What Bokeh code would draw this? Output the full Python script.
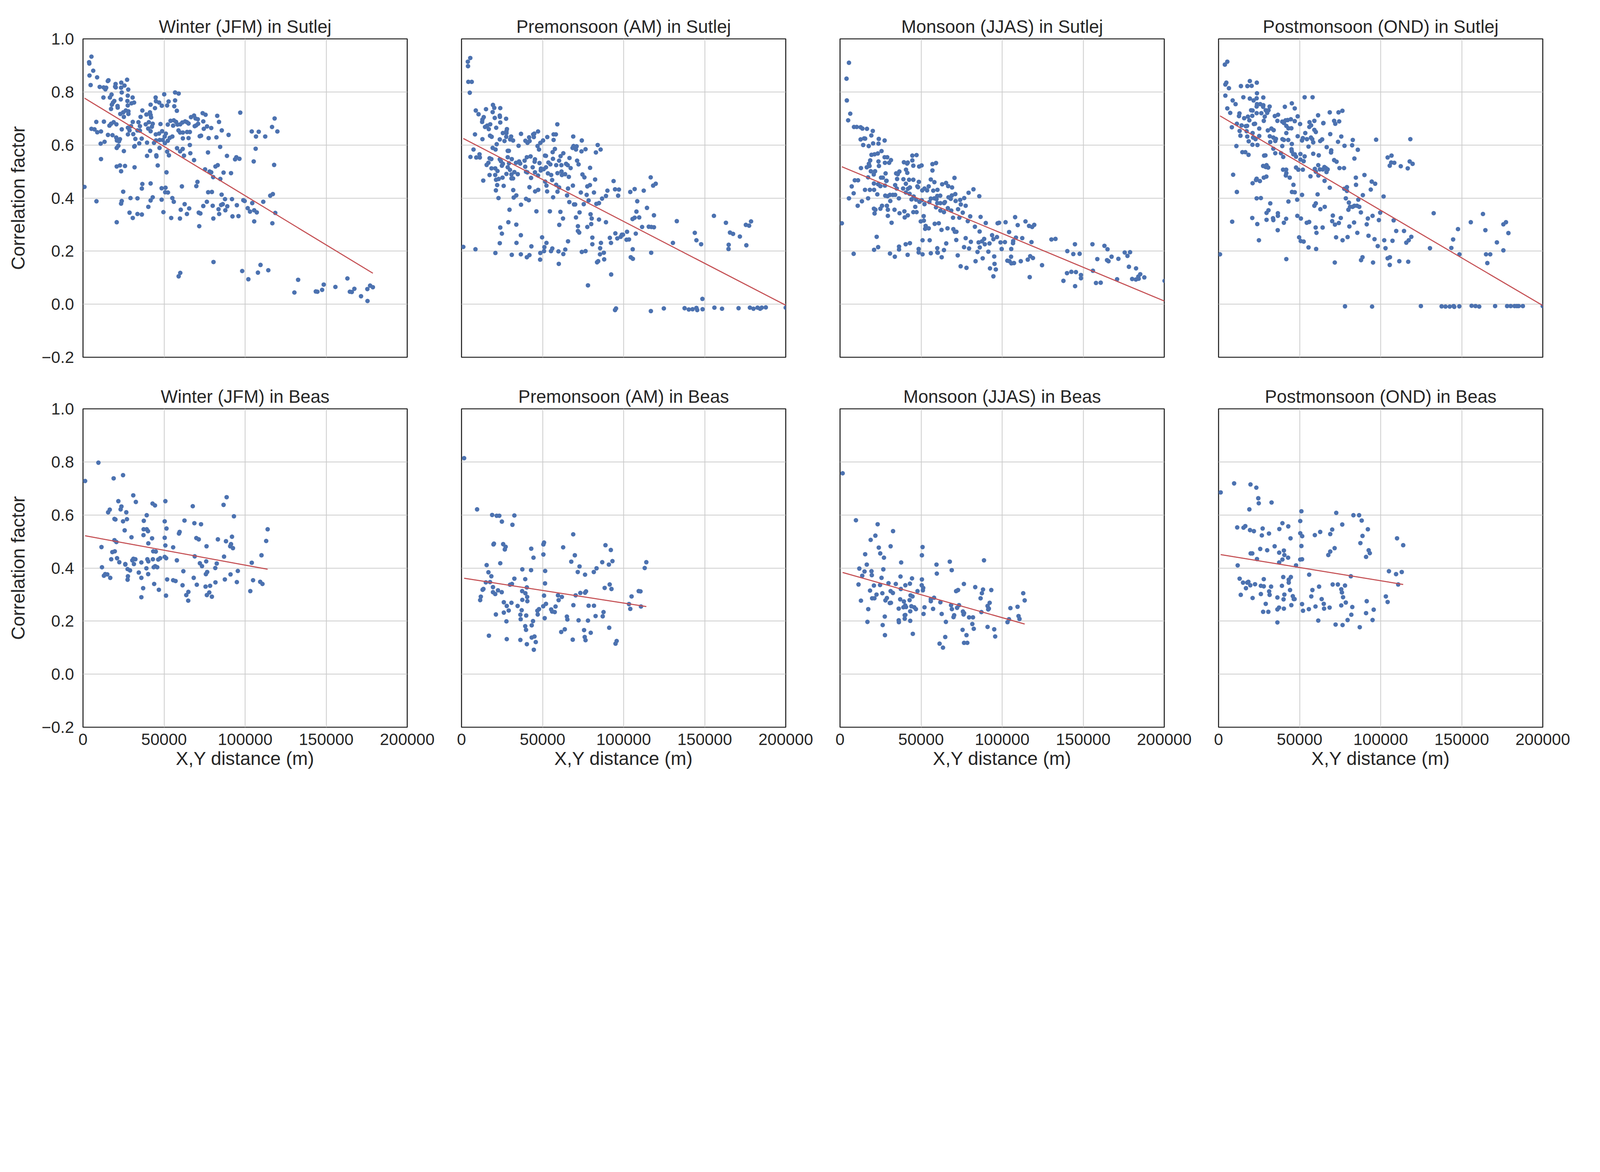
"""Spatial correlation of snow cover vs distance, Sutlej and Beas, by season"""
from bokeh.embed import file_html
from bokeh.layouts import column, row
from bokeh.models import FixedTicker
from bokeh.plotting import figure
from bokeh.resources import INLINE

x_ticks = [0, 50000, 100000, 150000, 200000]
x_tick_labels = ["0", "50000", "100000", "150000", "200000"]
y_ticks = [-0.2, 0.0, 0.2, 0.4, 0.6, 0.8, 1.0]
y_tick_labels = ["\u22120.2", "0.0", "0.2", "0.4", "0.6", "0.8", "1.0"]

titles_top = ["Winter (JFM) in Sutlej", "Premonsoon (AM) in Sutlej",
              "Monsoon (JJAS) in Sutlej", "Postmonsoon (OND) in Sutlej"]
titles_bottom = ["Winter (JFM) in Beas", "Premonsoon (AM) in Beas",
                 "Monsoon (JJAS) in Beas", "Postmonsoon (OND) in Beas"]

# fitted line: intercept, slope (per m)
fit_intercept = [0.78, 0.628, 0.521, 0.713, 0.523, 0.363, 0.386, 0.452]
fit_slope = [-3.71e-6, -3.16e-6, -2.545e-6, -3.59e-6, -1.12e-6, -9.5e-7, -1.73e-6, -1.0e-6]

# (distance m, correlation) pairs
sutlej_winter = [
    (5200, 0.933), (3750, 0.912), (3900, 0.907), (6300, 0.88), (4000, 0.862), (8700, 0.855), (4700, 0.826),
    (10300, 0.819), (12700, 0.817), (13800, 0.81), (14300, 0.816), (15300, 0.841), (15700, 0.844),
    (19800, 0.82), (20100, 0.83), (20200, 0.817), (23600, 0.835), (23500, 0.816), (25600, 0.824),
    (27200, 0.846), (27900, 0.809), (23900, 0.798), (12600, 0.779), (16600, 0.779), (17600, 0.79),
    (19300, 0.766), (18500, 0.76), (17800, 0.752), (17300, 0.736), (21300, 0.747), (21400, 0.741),
    (23300, 0.772), (27600, 0.786), (27400, 0.766), (30600, 0.779), (31500, 0.76), (29900, 0.757),
    (27600, 0.749), (26400, 0.73), (28000, 0.727), (24800, 0.723), (23000, 0.717), (25200, 0.706),
    (28000, 0.717), (36600, 0.73), (35500, 0.706), (39100, 0.715), (41300, 0.723), (41700, 0.713),
    (42000, 0.704), (41700, 0.752), (44800, 0.779), (45000, 0.765), (47000, 0.76), (48600, 0.748),
    (44400, 0.739), (50100, 0.791), (56800, 0.798), (59000, 0.794), (51900, 0.749), (52800, 0.764),
    (56300, 0.746), (56800, 0.768), (57900, 0.729), (97000, 0.722), (73800, 0.72), (75600, 0.714),
    (66600, 0.705), (68500, 0.711), (69400, 0.7), (70800, 0.697), (74200, 0.689), (82800, 0.71),
    (83900, 0.687), (118200, 0.7), (116600, 0.668), (119900, 0.651), (104100, 0.651), (108400, 0.65),
    (106700, 0.632), (112400, 0.632), (85600, 0.655), (89800, 0.638), (79100, 0.664), (76500, 0.67),
    (74500, 0.661), (71000, 0.68), (68900, 0.671), (69800, 0.674), (72000, 0.633), (72800, 0.635),
    (77500, 0.626), (82300, 0.629), (84600, 0.593), (77100, 0.572), (106500, 0.586), (105300, 0.538),
    (117900, 0.525), (88800, 0.559), (93800, 0.546), (94600, 0.554), (96500, 0.548), (81700, 0.519),
    (83100, 0.524), (75300, 0.508), (78100, 0.5), (79100, 0.497), (80300, 0.479), (86700, 0.496),
    (91300, 0.494), (84700, 0.472), (70600, 0.461), (69900, 0.445), (8200, 0.687), (5200, 0.661),
    (7100, 0.659), (8800, 0.648), (11100, 0.651), (12900, 0.688), (16300, 0.673), (17300, 0.68),
    (18900, 0.686), (20600, 0.678), (23900, 0.659), (15400, 0.638), (18200, 0.637), (20500, 0.628),
    (22800, 0.622), (20900, 0.617), (22200, 0.614), (10900, 0.605), (13300, 0.612), (20800, 0.589),
    (21800, 0.597), (25200, 0.577), (11100, 0.547), (27700, 0.665), (29600, 0.671), (28700, 0.655),
    (30700, 0.687), (27700, 0.64), (31000, 0.641), (34200, 0.686), (35100, 0.671), (33600, 0.655),
    (35100, 0.654), (32300, 0.623), (36200, 0.624), (34700, 0.606), (31600, 0.594), (31900, 0.596),
    (38700, 0.678), (40600, 0.686), (43000, 0.68), (42500, 0.669), (40200, 0.662), (41700, 0.652),
    (47800, 0.679), (44900, 0.64), (46900, 0.643), (48800, 0.652), (39500, 0.609), (43800, 0.608),
    (45000, 0.617), (47300, 0.619), (49200, 0.619), (50400, 0.632), (51100, 0.643), (50500, 0.607),
    (52300, 0.616), (47200, 0.589), (41400, 0.578), (39500, 0.559), (45200, 0.561), (45300, 0.557),
    (51900, 0.575), (53000, 0.561), (46100, 0.523), (51500, 0.497), (53500, 0.627), (55100, 0.632),
    (52300, 0.677), (54000, 0.691), (56000, 0.693), (57400, 0.687), (55600, 0.673), (58300, 0.677),
    (60000, 0.678), (61300, 0.685), (63000, 0.689), (65100, 0.681), (64100, 0.686), (64200, 0.649),
    (65900, 0.649), (58900, 0.655), (59900, 0.647), (61600, 0.647), (61500, 0.585), (59900, 0.576),
    (58000, 0.588), (61600, 0.625), (65100, 0.626), (65900, 0.6), (66200, 0.569), (62300, 0.56),
    (68500, 0.543), (31800, 0.516), (25900, 0.521), (22800, 0.523), (20800, 0.519), (23500, 0.501),
    (900, 0.442), (8300, 0.388), (20800, 0.309), (23500, 0.379), (23900, 0.389), (24800, 0.424),
    (28700, 0.345), (29300, 0.4), (30700, 0.325), (33600, 0.399), (33600, 0.34), (36300, 0.338),
    (36300, 0.436), (36600, 0.453), (41700, 0.455), (43000, 0.403), (41700, 0.391), (40300, 0.367),
    (48500, 0.437), (48500, 0.394), (49600, 0.347), (50900, 0.439), (50700, 0.422), (52400, 0.421),
    (55100, 0.4), (56000, 0.386), (54400, 0.325), (59800, 0.323), (61000, 0.444), (62700, 0.377),
    (60300, 0.356), (64100, 0.34), (65500, 0.361), (71400, 0.345), (72400, 0.342), (71700, 0.294),
    (74200, 0.37), (76400, 0.386), (77200, 0.422), (79500, 0.423), (80000, 0.371), (83600, 0.358),
    (84000, 0.34), (80400, 0.323), (85500, 0.413), (87600, 0.396), (85200, 0.374), (86200, 0.377),
    (89000, 0.369), (87800, 0.354), (91900, 0.396), (94900, 0.373), (92200, 0.331), (95900, 0.332),
    (98900, 0.392), (99700, 0.389), (101600, 0.362), (103000, 0.349), (105600, 0.354), (107200, 0.346),
    (104400, 0.381), (105600, 0.312), (111200, 0.386), (115500, 0.409), (117100, 0.415), (118600, 0.344),
    (116800, 0.305), (59000, 0.105), (60000, 0.118), (80500, 0.159), (98200, 0.125), (102000, 0.094),
    (107900, 0.119), (109500, 0.148), (114300, 0.128), (132700, 0.092), (130400, 0.044), (143600, 0.048),
    (144600, 0.047), (147500, 0.054), (148500, 0.074), (155700, 0.065), (163100, 0.097), (164600, 0.047),
    (165800, 0.046), (167400, 0.058), (171500, 0.03), (175400, 0.057), (175500, 0.012), (177100, 0.07),
    (178800, 0.064),
]

sutlej_premonsoon = [
    (5400, 0.928), (3900, 0.914), (4000, 0.897), (4200, 0.838), (6300, 0.838), (5100, 0.797),
    (19400, 0.751), (20200, 0.74), (23900, 0.739), (15100, 0.735), (8800, 0.73), (10500, 0.716),
    (19200, 0.724), (13700, 0.705), (12900, 0.696), (12700, 0.687), (20500, 0.702), (23600, 0.711),
    (23700, 0.706), (23900, 0.685), (27500, 0.699), (17700, 0.678), (15800, 0.673), (14500, 0.668),
    (16800, 0.66), (21400, 0.665), (28000, 0.66), (27700, 0.652), (25500, 0.645), (27700, 0.645),
    (27600, 0.631), (59100, 0.678), (8300, 0.64), (12900, 0.622), (17600, 0.635), (18600, 0.631),
    (23600, 0.621), (21700, 0.603), (26500, 0.615), (30600, 0.632), (30000, 0.621), (31800, 0.617),
    (36700, 0.642), (35200, 0.597), (39400, 0.616), (40700, 0.608), (41700, 0.629), (42000, 0.615),
    (44200, 0.64), (44900, 0.643), (44600, 0.63), (47200, 0.651), (50300, 0.617), (48600, 0.608),
    (46900, 0.596), (47800, 0.583), (52900, 0.63), (56800, 0.64), (58200, 0.64), (56800, 0.619),
    (68900, 0.632), (74200, 0.617), (68500, 0.589), (69100, 0.596), (71000, 0.595), (70600, 0.583),
    (74000, 0.576), (76500, 0.584), (84000, 0.6), (85800, 0.583), (82900, 0.572), (7400, 0.583),
    (5500, 0.555), (9100, 0.553), (11100, 0.565), (11300, 0.553), (19200, 0.589), (21000, 0.583),
    (17300, 0.55), (18400, 0.547), (15500, 0.525), (16600, 0.533), (28500, 0.578), (29200, 0.578),
    (28500, 0.554), (31000, 0.547), (23600, 0.546), (24300, 0.539), (24900, 0.522), (25500, 0.529),
    (29300, 0.531), (28500, 0.516), (29900, 0.506), (27700, 0.491), (32600, 0.498), (30800, 0.489),
    (34700, 0.49), (30800, 0.474), (31800, 0.474), (18500, 0.512), (20800, 0.512), (22200, 0.502),
    (17300, 0.487), (20800, 0.487), (21300, 0.469), (22900, 0.472), (25300, 0.477), (13400, 0.466),
    (22000, 0.449), (26000, 0.446), (21200, 0.429), (22800, 0.4), (33600, 0.533), (35500, 0.538),
    (36200, 0.53), (38900, 0.541), (40300, 0.554), (42600, 0.557), (43900, 0.516), (45300, 0.546),
    (45100, 0.537), (39300, 0.518), (39800, 0.499), (40600, 0.497), (42900, 0.476), (45300, 0.497),
    (47200, 0.485), (48100, 0.532), (49000, 0.511), (50700, 0.509), (52100, 0.516), (48900, 0.504),
    (51500, 0.56), (52100, 0.559), (53600, 0.534), (54800, 0.527), (56400, 0.548), (56200, 0.573),
    (57600, 0.585), (53300, 0.493), (55300, 0.487), (55900, 0.468), (51600, 0.462), (52400, 0.447),
    (52800, 0.425), (56500, 0.403), (41900, 0.441), (45400, 0.425), (47300, 0.431), (31900, 0.43),
    (32200, 0.402), (33800, 0.41), (39800, 0.397), (41500, 0.392), (36700, 0.375), (29600, 0.356),
    (46200, 0.35), (58400, 0.524), (60200, 0.541), (61600, 0.524), (61100, 0.558), (62800, 0.569),
    (64500, 0.529), (65500, 0.524), (67300, 0.513), (66600, 0.551), (59200, 0.494), (61700, 0.5),
    (61900, 0.487), (63900, 0.49), (66200, 0.48), (58400, 0.45), (60200, 0.44), (59200, 0.424),
    (65700, 0.436), (65100, 0.41), (68700, 0.447), (66500, 0.385), (69400, 0.376), (70100, 0.376),
    (71300, 0.541), (72200, 0.527), (74600, 0.489), (75800, 0.478), (79300, 0.514), (82400, 0.47),
    (77600, 0.444), (79200, 0.449), (73600, 0.421), (77200, 0.412), (78400, 0.391), (75400, 0.377),
    (81700, 0.421), (83200, 0.378), (84800, 0.381), (86700, 0.398), (89100, 0.408), (90000, 0.428),
    (93800, 0.464), (94700, 0.433), (97100, 0.432), (96600, 0.409), (104100, 0.423), (106800, 0.434),
    (112400, 0.428), (108400, 0.388), (116700, 0.478), (118200, 0.447), (119800, 0.454), (61000, 0.348),
    (70600, 0.327), (72800, 0.346), (79600, 0.339), (80300, 0.323), (84800, 0.319), (89100, 0.309),
    (62600, 0.323), (60300, 0.299), (54500, 0.35), (71800, 0.294), (71800, 0.276), (72600, 0.27),
    (77600, 0.291), (80000, 0.302), (114400, 0.363), (118700, 0.335), (107900, 0.349), (106800, 0.326),
    (105500, 0.321), (109600, 0.327), (111400, 0.291), (115500, 0.292), (117100, 0.291), (118700, 0.29),
    (23900, 0.289), (24900, 0.266), (28900, 0.309), (33800, 0.3), (36600, 0.26), (23600, 0.23),
    (33900, 0.231), (49700, 0.252), (52400, 0.231), (51100, 0.215), (65700, 0.237), (86000, 0.231),
    (80700, 0.251), (80700, 0.226), (91500, 0.25), (92200, 0.231), (94900, 0.267), (96100, 0.248),
    (98200, 0.254), (98900, 0.262), (99600, 0.262), (102100, 0.273), (101800, 0.243), (103300, 0.244),
    (107500, 0.266), (1100, 0.216), (8600, 0.207), (20900, 0.193), (31000, 0.186), (36600, 0.188),
    (40300, 0.177), (41900, 0.185), (43100, 0.218), (48500, 0.168), (48600, 0.193), (50900, 0.2),
    (55200, 0.2), (56000, 0.21), (59800, 0.199), (60000, 0.152), (62800, 0.189), (64000, 0.206),
    (74200, 0.197), (76500, 0.2), (85500, 0.211), (85400, 0.188), (87800, 0.194), (88000, 0.169),
    (83600, 0.158), (84300, 0.162), (92300, 0.112), (78000, 0.071), (105600, 0.207), (104400, 0.177),
    (105700, 0.171), (117000, 0.194), (130400, 0.231), (132800, 0.313), (143900, 0.269), (144900, 0.241),
    (147800, 0.226), (155700, 0.333), (163100, 0.307), (165600, 0.27), (167500, 0.265), (164800, 0.224),
    (164700, 0.208), (171700, 0.255), (175700, 0.222), (175400, 0.299), (177400, 0.296), (178600, 0.312),
    (148600, 0.02), (94700, -0.022), (95300, -0.016), (116800, -0.026), (124800, -0.016), (137600, -0.015),
    (140200, -0.02), (142500, -0.019), (144900, -0.014), (145400, -0.022), (148700, -0.019), (156000, -0.013),
    (160700, -0.017), (170900, -0.015), (177900, -0.013), (180100, -0.017), (182600, -0.013), (184200, -0.017),
    (185200, -0.013), (187700, -0.012), (200000, -0.013),
]

sutlej_monsoon = [
    (5500, 0.91), (4000, 0.85), (4200, 0.768), (6300, 0.718), (5000, 0.693), (8600, 0.668), (10300, 0.668),
    (12700, 0.667), (13800, 0.662), (16600, 0.661), (20200, 0.653), (19300, 0.636), (12700, 0.621),
    (14900, 0.625), (15500, 0.624), (23900, 0.623), (27500, 0.617), (14300, 0.6), (17700, 0.596),
    (20400, 0.606), (23700, 0.605), (25600, 0.577), (19400, 0.563), (21300, 0.565), (23300, 0.568),
    (27500, 0.554), (29100, 0.554), (27700, 0.533), (30300, 0.533), (31400, 0.543), (18600, 0.542),
    (17800, 0.529), (18200, 0.521), (23700, 0.538), (24000, 0.521), (16500, 0.516), (12900, 0.513),
    (44600, 0.56), (47200, 0.562), (44600, 0.542), (45200, 0.522), (39400, 0.535), (41800, 0.534),
    (41400, 0.53), (48800, 0.519), (50300, 0.523), (57000, 0.528), (59200, 0.532), (57000, 0.504),
    (19000, 0.501), (21600, 0.501), (20800, 0.489), (17300, 0.478), (9100, 0.467), (11100, 0.467),
    (28100, 0.493), (25300, 0.477), (26400, 0.477), (28700, 0.465), (34600, 0.493), (35600, 0.49),
    (36600, 0.5), (35200, 0.472), (40700, 0.507), (41500, 0.495), (39100, 0.471), (42600, 0.469),
    (45200, 0.469), (40600, 0.454), (20900, 0.455), (24900, 0.445), (23500, 0.452), (27700, 0.447),
    (28500, 0.465), (34000, 0.449), (35000, 0.436), (7200, 0.444), (8400, 0.418), (5500, 0.399),
    (15400, 0.431), (18400, 0.431), (21000, 0.431), (23000, 0.414), (17300, 0.399), (38900, 0.436),
    (40600, 0.421), (41900, 0.435), (43100, 0.44), (42900, 0.416), (47700, 0.444), (48600, 0.461),
    (48100, 0.441), (50700, 0.429), (52100, 0.436), (53700, 0.429), (54700, 0.444), (56000, 0.47),
    (58200, 0.46), (57500, 0.428), (60100, 0.431), (63000, 0.452), (65400, 0.457), (66700, 0.445),
    (69100, 0.44), (70600, 0.476), (82300, 0.433), (85900, 0.407), (79300, 0.42), (27900, 0.409),
    (29300, 0.407), (30800, 0.412), (32600, 0.412), (34000, 0.412), (31000, 0.389), (36300, 0.399),
    (44100, 0.395), (45400, 0.406), (46900, 0.394), (49000, 0.386), (50400, 0.392), (52100, 0.377),
    (55100, 0.385), (56000, 0.398), (58200, 0.399), (59500, 0.396), (60000, 0.408), (61800, 0.409),
    (59200, 0.365), (60000, 0.381), (61900, 0.381), (64200, 0.381), (64700, 0.385), (66900, 0.403),
    (68300, 0.397), (69000, 0.41), (71100, 0.415), (71300, 0.389), (74100, 0.393), (74500, 0.376),
    (76600, 0.4), (77500, 0.371), (72800, 0.358), (68600, 0.353), (75700, 0.345), (73600, 0.326),
    (69700, 0.326), (61900, 0.353), (64100, 0.347), (66500, 0.362), (10900, 0.371), (13500, 0.388),
    (20900, 0.36), (21800, 0.356), (21300, 0.342), (24900, 0.36), (25900, 0.371), (29500, 0.356),
    (28900, 0.371), (33600, 0.356), (31800, 0.307), (29500, 0.333), (36700, 0.343), (39700, 0.35),
    (39900, 0.327), (41800, 0.335), (45200, 0.347), (47200, 0.347), (46400, 0.367), (51600, 0.332),
    (51700, 0.315), (49800, 0.312), (52800, 0.295), (52500, 0.284), (54700, 0.286), (58400, 0.303),
    (60900, 0.305), (62600, 0.28), (66300, 0.286), (69900, 0.283), (70800, 0.273), (71800, 0.273),
    (78800, 0.313), (80300, 0.331), (83200, 0.292), (86100, 0.274), (86700, 0.329), (89900, 0.306),
    (97200, 0.305), (98100, 0.307), (102100, 0.309), (108000, 0.328), (109600, 0.298), (114400, 0.312),
    (116600, 0.295), (118500, 0.291), (119800, 0.299), (22600, 0.254), (21000, 0.205), (23500, 0.215),
    (8400, 0.19), (1100, 0.305), (30800, 0.191), (33800, 0.179), (36400, 0.217), (36400, 0.206),
    (40500, 0.226), (41700, 0.186), (43100, 0.23), (48500, 0.208), (48500, 0.195), (50900, 0.241),
    (50900, 0.188), (55300, 0.241), (56000, 0.192), (60000, 0.211), (60000, 0.195), (60300, 0.194),
    (62700, 0.177), (64100, 0.204), (65500, 0.229), (71700, 0.242), (72600, 0.184), (74400, 0.143),
    (78000, 0.137), (76500, 0.215), (79600, 0.21), (77500, 0.249), (80700, 0.235), (83600, 0.162),
    (84800, 0.197), (85500, 0.233), (86200, 0.214), (87600, 0.237), (88000, 0.173), (88900, 0.246),
    (89300, 0.226), (91500, 0.198), (92200, 0.229), (92500, 0.135), (93800, 0.26), (94600, 0.245),
    (96800, 0.253), (95100, 0.18), (95300, 0.152), (96100, 0.131), (94600, 0.105), (99000, 0.233),
    (99700, 0.208), (101700, 0.234), (104300, 0.272), (105600, 0.208), (105500, 0.179), (105700, 0.154),
    (106800, 0.238), (106700, 0.23), (108500, 0.251), (103200, 0.164), (104500, 0.162), (107300, 0.155),
    (111500, 0.162), (112400, 0.249), (115800, 0.168), (117300, 0.181), (117000, 0.102), (118100, 0.234),
    (119000, 0.174), (124600, 0.147), (130400, 0.244), (132900, 0.246), (137800, 0.088), (140200, 0.2),
    (140000, 0.117), (142700, 0.122), (143900, 0.189), (144900, 0.226), (145000, 0.068), (145500, 0.121),
    (147800, 0.19), (148600, 0.11), (148600, 0.098), (155700, 0.226), (156000, 0.126), (157900, 0.08),
    (158700, 0.17), (160800, 0.081), (163100, 0.22), (165000, 0.207), (164700, 0.166), (165600, 0.162),
    (167500, 0.179), (170900, 0.094), (171700, 0.171), (175600, 0.195), (177300, 0.182), (178900, 0.196),
    (178200, 0.141), (180200, 0.095), (182600, 0.135), (182500, 0.093), (184200, 0.096), (184000, 0.104),
    (185200, 0.113), (187700, 0.101), (200200, 0.088),
]

sutlej_postmonsoon = [
    (3900, 0.903), (5400, 0.914), (4200, 0.828), (4800, 0.835), (6400, 0.814), (4200, 0.786),
    (13800, 0.822), (17800, 0.822), (20400, 0.823), (19300, 0.841), (23600, 0.835), (23700, 0.795),
    (15300, 0.78), (19300, 0.775), (21600, 0.768), (23500, 0.776), (8700, 0.768), (10500, 0.754),
    (5400, 0.738), (7200, 0.721), (23700, 0.754), (25700, 0.754), (27600, 0.75), (27600, 0.779),
    (23500, 0.745), (27500, 0.744), (53100, 0.78), (58000, 0.78), (40900, 0.744), (45200, 0.757),
    (47000, 0.738), (20100, 0.731), (21000, 0.73), (18100, 0.707), (20800, 0.71), (19000, 0.693),
    (12900, 0.719), (12600, 0.709), (15800, 0.701), (23500, 0.72), (26400, 0.72), (29100, 0.731),
    (30800, 0.731), (30000, 0.721), (31500, 0.745), (27900, 0.691), (28500, 0.707), (34700, 0.709),
    (36700, 0.714), (36300, 0.691), (39300, 0.688), (40300, 0.683), (41300, 0.693), (42600, 0.694),
    (41800, 0.672), (43100, 0.663), (44600, 0.697), (44900, 0.663), (47000, 0.69), (48800, 0.708),
    (50300, 0.679), (61400, 0.712), (68600, 0.723), (74000, 0.723), (76400, 0.729), (59100, 0.691),
    (71300, 0.691), (74400, 0.689), (72000, 0.68), (64700, 0.683), (56100, 0.686), (56000, 0.668),
    (57100, 0.674), (59100, 0.657), (60000, 0.649), (8200, 0.667), (11300, 0.68), (14200, 0.674),
    (16800, 0.671), (17600, 0.672), (13000, 0.653), (17300, 0.652), (13500, 0.635), (17700, 0.632),
    (18600, 0.614), (21000, 0.645), (21300, 0.628), (22500, 0.68), (21800, 0.679), (25100, 0.662),
    (25100, 0.634), (22800, 0.622), (20900, 0.601), (24000, 0.6), (11000, 0.596), (30400, 0.655),
    (32600, 0.662), (34000, 0.656), (31600, 0.633), (33800, 0.628), (35400, 0.623), (35000, 0.615),
    (31900, 0.611), (39400, 0.622), (40300, 0.619), (43000, 0.619), (41800, 0.645), (45200, 0.604),
    (39300, 0.596), (48800, 0.633), (52000, 0.626), (51500, 0.617), (53500, 0.645), (54500, 0.622),
    (55500, 0.594), (57000, 0.628), (57800, 0.622), (58400, 0.61), (62700, 0.615), (63900, 0.621),
    (64600, 0.682), (66700, 0.592), (68900, 0.641), (69500, 0.58), (69400, 0.572), (73700, 0.612),
    (75700, 0.632), (77700, 0.597), (82400, 0.599), (82800, 0.619), (85900, 0.582), (83800, 0.549),
    (97200, 0.62), (118300, 0.622), (104300, 0.553), (106700, 0.56), (106500, 0.534), (105600, 0.522),
    (108400, 0.533), (112400, 0.52), (116700, 0.512), (117900, 0.538), (119700, 0.529), (14700, 0.573),
    (16500, 0.573), (18500, 0.563), (28100, 0.56), (28900, 0.561), (33800, 0.586), (35000, 0.569),
    (38500, 0.569), (39900, 0.555), (45000, 0.584), (45200, 0.576), (46100, 0.565), (47000, 0.565),
    (47800, 0.556), (50500, 0.566), (50500, 0.545), (52500, 0.539), (53100, 0.557), (52000, 0.507),
    (58400, 0.567), (61800, 0.561), (61500, 0.524), (59400, 0.51), (62500, 0.508), (64300, 0.508),
    (65300, 0.517), (66200, 0.513), (66600, 0.498), (67300, 0.508), (69400, 0.572), (71300, 0.543),
    (72800, 0.537), (74600, 0.513), (77400, 0.513), (27500, 0.521), (29600, 0.524), (30600, 0.515),
    (29100, 0.517), (29500, 0.481), (27900, 0.477), (47800, 0.515), (49200, 0.507), (39800, 0.507),
    (41700, 0.507), (41800, 0.494), (41500, 0.485), (43900, 0.477), (9000, 0.488), (21000, 0.456),
    (23500, 0.473), (23100, 0.468), (25500, 0.464), (11300, 0.423), (23500, 0.399), (26100, 0.4),
    (46200, 0.45), (45300, 0.423), (47000, 0.422), (51500, 0.412), (48500, 0.394), (43100, 0.387),
    (31900, 0.38), (56700, 0.482), (60000, 0.499), (61600, 0.485), (65400, 0.465), (68600, 0.439),
    (77500, 0.435), (79200, 0.441), (79200, 0.427), (84700, 0.477), (84800, 0.45), (90000, 0.487),
    (94500, 0.462), (96600, 0.454), (93900, 0.432), (89000, 0.411), (86200, 0.394), (78500, 0.399),
    (80400, 0.383), (61100, 0.414), (60000, 0.38), (59100, 0.371), (62800, 0.358), (65500, 0.367),
    (80100, 0.356), (81100, 0.367), (82700, 0.367), (83800, 0.371), (85400, 0.371), (86800, 0.367),
    (87800, 0.346), (99700, 0.345), (101800, 0.406), (98900, 0.317), (95000, 0.333), (92100, 0.323),
    (91400, 0.301), (70500, 0.334), (75400, 0.325), (70100, 0.313), (71800, 0.3), (74200, 0.306),
    (83600, 0.308), (8400, 0.311), (20800, 0.325), (23900, 0.302), (29600, 0.344), (29600, 0.318),
    (30800, 0.354), (33600, 0.324), (33800, 0.317), (36600, 0.343), (36600, 0.333), (36500, 0.279),
    (40300, 0.307), (41700, 0.322), (48600, 0.333), (50800, 0.323), (54400, 0.307), (55900, 0.31),
    (59900, 0.289), (60400, 0.269), (64200, 0.289), (24900, 0.241), (49700, 0.252), (50700, 0.238),
    (52500, 0.236), (55500, 0.214), (60200, 0.208), (41800, 0.17), (72500, 0.252), (76500, 0.241),
    (79600, 0.253), (80700, 0.293), (85600, 0.269), (92500, 0.258), (96200, 0.245), (98200, 0.219),
    (102200, 0.241), (103000, 0.211), (107300, 0.239), (108000, 0.316), (109600, 0.276), (114400, 0.276),
    (115800, 0.232), (117300, 0.241), (118900, 0.254), (900, 0.188), (71700, 0.157), (87900, 0.166),
    (88800, 0.177), (95300, 0.157), (104300, 0.173), (105700, 0.177), (105600, 0.148), (111500, 0.162),
    (117000, 0.16), (130400, 0.211), (132700, 0.343), (143600, 0.212), (144700, 0.244), (147700, 0.283),
    (148600, 0.188), (155600, 0.309), (163100, 0.34), (164600, 0.279), (165000, 0.188), (167600, 0.188),
    (165800, 0.155), (171700, 0.233), (175700, 0.203), (175700, 0.301), (177300, 0.309), (178800, 0.268),
    (78000, -0.008), (94700, -0.009), (124800, -0.007), (137600, -0.008), (140000, -0.009), (142600, -0.009),
    (145000, -0.007), (145400, -0.01), (148500, -0.008), (156100, -0.006), (158500, -0.007), (160800, -0.009),
    (170600, -0.007), (178000, -0.007), (180200, -0.007), (182600, -0.007), (184000, -0.007), (185100, -0.007),
    (187700, -0.007), (200000, -0.007),
]

beas_winter = [
    (1300, 0.728), (9500, 0.797), (18900, 0.738), (24700, 0.75), (31000, 0.674), (32600, 0.649),
    (21800, 0.652), (42900, 0.643), (44400, 0.636), (50800, 0.652), (67700, 0.633), (86700, 0.638),
    (88600, 0.667), (15500, 0.61), (16500, 0.62), (23200, 0.621), (23700, 0.632), (26700, 0.61),
    (19400, 0.585), (20000, 0.583), (24700, 0.576), (27100, 0.584), (25700, 0.542), (39300, 0.599),
    (37500, 0.578), (37400, 0.546), (39300, 0.546), (40100, 0.539), (37300, 0.524), (50400, 0.576),
    (51500, 0.549), (62600, 0.579), (68700, 0.569), (72800, 0.565), (93100, 0.595), (113900, 0.546),
    (113000, 0.502), (29900, 0.516), (42600, 0.512), (40300, 0.493), (50400, 0.514), (50800, 0.485),
    (55600, 0.478), (59200, 0.53), (59600, 0.536), (69900, 0.513), (71400, 0.508), (76200, 0.482),
    (83200, 0.508), (88200, 0.501), (91900, 0.518), (91300, 0.49), (90800, 0.482), (92500, 0.475),
    (11400, 0.479), (19400, 0.505), (20600, 0.498), (18100, 0.46), (19600, 0.463), (17400, 0.433),
    (21000, 0.437), (22400, 0.422), (26100, 0.415), (26100, 0.413), (30400, 0.429), (31100, 0.435),
    (32300, 0.433), (31400, 0.415), (36000, 0.421), (39700, 0.433), (40300, 0.425), (43100, 0.433),
    (46400, 0.432), (47600, 0.437), (43300, 0.463), (44900, 0.462), (50400, 0.442), (51300, 0.437),
    (57900, 0.429), (68900, 0.444), (72100, 0.418), (73400, 0.407), (76000, 0.425), (82500, 0.417),
    (87000, 0.443), (104100, 0.42), (110100, 0.448), (11700, 0.403), (12900, 0.371), (13700, 0.377),
    (15000, 0.376), (16800, 0.363), (27500, 0.396), (29000, 0.391), (27700, 0.369), (27500, 0.356),
    (34400, 0.383), (36000, 0.363), (37100, 0.324), (36000, 0.29), (39100, 0.399), (40200, 0.377),
    (43600, 0.403), (44500, 0.407), (45800, 0.403), (43900, 0.34), (46800, 0.318), (51200, 0.296),
    (51900, 0.357), (55600, 0.354), (57100, 0.351), (61400, 0.335), (61900, 0.388), (63700, 0.298),
    (65000, 0.31), (64900, 0.277), (68300, 0.363), (70200, 0.337), (75600, 0.33), (75800, 0.377),
    (76600, 0.385), (78400, 0.333), (77900, 0.308), (76400, 0.298), (79500, 0.292), (81700, 0.346),
    (81600, 0.4), (87500, 0.357), (91000, 0.376), (94900, 0.347), (95500, 0.389), (103200, 0.313),
    (104900, 0.354), (109300, 0.348), (110700, 0.34),
]

beas_premonsoon = [
    (1600, 0.814), (9600, 0.621), (18900, 0.6), (21700, 0.597), (23300, 0.597), (32600, 0.598),
    (24900, 0.575), (31400, 0.563), (68900, 0.527), (19700, 0.489), (20000, 0.492), (25700, 0.49),
    (27200, 0.48), (26700, 0.47), (43000, 0.473), (44400, 0.439), (50500, 0.489), (50900, 0.496),
    (50500, 0.451), (62700, 0.478), (69900, 0.448), (67700, 0.424), (72800, 0.406), (71700, 0.385),
    (76200, 0.375), (88800, 0.486), (92100, 0.468), (86800, 0.422), (90900, 0.413), (93100, 0.426),
    (83300, 0.399), (81600, 0.385), (114000, 0.422), (113000, 0.4), (15500, 0.411), (16600, 0.384),
    (18400, 0.369), (23900, 0.418), (37500, 0.395), (42900, 0.392), (51600, 0.389), (15000, 0.346),
    (17600, 0.347), (32600, 0.36), (29900, 0.337), (31100, 0.34), (39300, 0.358), (40300, 0.327),
    (51500, 0.342), (13000, 0.318), (13500, 0.321), (11900, 0.292), (11500, 0.279), (19400, 0.328),
    (22500, 0.316), (19400, 0.309), (20800, 0.302), (24800, 0.309), (37400, 0.313), (39400, 0.305),
    (40500, 0.291), (37500, 0.28), (40600, 0.275), (50900, 0.296), (52100, 0.265), (50400, 0.256),
    (59500, 0.297), (61900, 0.291), (59900, 0.279), (70400, 0.297), (73300, 0.306), (76200, 0.307),
    (76800, 0.312), (88300, 0.325), (91400, 0.338), (92500, 0.321), (104900, 0.293), (109300, 0.313),
    (110400, 0.312), (26100, 0.271), (27900, 0.257), (30800, 0.269), (34600, 0.257), (29100, 0.24),
    (26100, 0.232), (21200, 0.225), (37100, 0.241), (36300, 0.224), (39900, 0.221), (36500, 0.207),
    (27700, 0.199), (46800, 0.239), (47800, 0.245), (47000, 0.225), (55300, 0.244), (55900, 0.236),
    (57500, 0.234), (58000, 0.255), (51300, 0.211), (44100, 0.2), (43300, 0.184), (39300, 0.181),
    (39800, 0.167), (69000, 0.26), (78400, 0.258), (81700, 0.258), (87600, 0.234), (82700, 0.219),
    (87100, 0.218), (65000, 0.217), (65300, 0.206), (72200, 0.203), (78000, 0.202), (103300, 0.264),
    (104100, 0.246), (110700, 0.255), (16900, 0.145), (27900, 0.132), (36300, 0.129), (40300, 0.113),
    (43300, 0.138), (45000, 0.142), (45800, 0.121), (44600, 0.092), (61500, 0.159), (63700, 0.169),
    (68600, 0.13), (75600, 0.166), (76000, 0.14), (76500, 0.128), (79700, 0.156), (91100, 0.175),
    (95700, 0.125), (95000, 0.115),
]

beas_monsoon = [
    (1600, 0.757), (9800, 0.58), (23200, 0.565), (32700, 0.539), (21800, 0.522), (18900, 0.506),
    (31200, 0.482), (23900, 0.477), (50900, 0.479), (50500, 0.448), (15500, 0.452), (24800, 0.455),
    (27100, 0.439), (88800, 0.429), (67700, 0.424), (37700, 0.421), (59500, 0.413), (68900, 0.392),
    (59700, 0.379), (11900, 0.398), (16500, 0.413), (15100, 0.387), (19400, 0.388), (19600, 0.373),
    (13700, 0.371), (26700, 0.395), (11400, 0.338), (18500, 0.315), (20900, 0.334), (24700, 0.336),
    (25600, 0.363), (29900, 0.343), (31200, 0.313), (34400, 0.34), (37300, 0.368), (37500, 0.321),
    (32600, 0.306), (40300, 0.335), (43100, 0.341), (44400, 0.361), (47800, 0.313), (50500, 0.357),
    (50400, 0.335), (51300, 0.325), (51100, 0.316), (12900, 0.277), (19800, 0.286), (21200, 0.286),
    (22500, 0.3), (26100, 0.305), (28900, 0.287), (28000, 0.278), (30700, 0.268), (31400, 0.269),
    (17400, 0.245), (36200, 0.247), (37100, 0.282), (39400, 0.274), (39100, 0.252), (40200, 0.259),
    (40700, 0.253), (43500, 0.297), (44700, 0.293), (42900, 0.279), (43300, 0.237), (44000, 0.256),
    (45800, 0.252), (46800, 0.245), (51500, 0.227), (52100, 0.252), (56000, 0.283), (56000, 0.275),
    (58000, 0.288), (57400, 0.246), (61900, 0.271), (62700, 0.227), (65300, 0.197), (71600, 0.313),
    (72800, 0.317), (76400, 0.34), (73400, 0.26), (72200, 0.25), (68500, 0.26), (69000, 0.245),
    (70400, 0.222), (70000, 0.215), (75800, 0.236), (76500, 0.23), (76200, 0.225), (79600, 0.214),
    (82000, 0.214), (83400, 0.328), (88200, 0.319), (87500, 0.305), (86700, 0.286), (87200, 0.234),
    (93300, 0.317), (92300, 0.269), (91000, 0.257), (91800, 0.247), (91400, 0.244), (113000, 0.305),
    (113900, 0.278), (105100, 0.249), (109500, 0.254), (110100, 0.219), (110700, 0.208), (104200, 0.207),
    (103300, 0.196), (16900, 0.197), (26300, 0.185), (27600, 0.217), (27700, 0.147), (36200, 0.203),
    (36300, 0.196), (39900, 0.222), (40300, 0.223), (39900, 0.209), (43300, 0.201), (44900, 0.152),
    (61400, 0.115), (63500, 0.1), (64900, 0.14), (75600, 0.167), (76500, 0.118), (78500, 0.118),
    (78000, 0.147), (81600, 0.189), (82500, 0.171), (91000, 0.178), (95100, 0.169), (95700, 0.142),
]

beas_postmonsoon = [
    (1300, 0.685), (9600, 0.719), (19700, 0.715), (23300, 0.703), (24500, 0.663), (24800, 0.644),
    (32700, 0.647), (19000, 0.621), (51100, 0.614), (72600, 0.608), (83200, 0.599), (86700, 0.599),
    (88300, 0.579), (50400, 0.577), (11500, 0.553), (15400, 0.552), (16500, 0.558), (19400, 0.543),
    (21800, 0.539), (27200, 0.549), (26700, 0.523), (31100, 0.53), (37500, 0.547), (39400, 0.569),
    (43000, 0.557), (44400, 0.512), (50400, 0.531), (51600, 0.52), (51100, 0.483), (59400, 0.524),
    (62700, 0.536), (68900, 0.528), (70100, 0.545), (76300, 0.564), (92100, 0.546), (88800, 0.521),
    (87500, 0.494), (110100, 0.512), (113900, 0.486), (25700, 0.472), (30000, 0.467), (34600, 0.482),
    (37400, 0.458), (40300, 0.466), (40600, 0.449), (39400, 0.432), (42900, 0.439), (37400, 0.421),
    (23700, 0.434), (19800, 0.455), (20800, 0.455), (50400, 0.432), (51500, 0.433), (47800, 0.41),
    (71600, 0.475), (68900, 0.462), (67700, 0.449), (92600, 0.467), (93300, 0.456), (91000, 0.442),
    (11800, 0.41), (13000, 0.36), (15100, 0.345), (17700, 0.345), (18400, 0.348), (19600, 0.335),
    (16900, 0.324), (22500, 0.339), (13700, 0.299), (21000, 0.287), (26100, 0.333), (27900, 0.331),
    (27900, 0.358), (32400, 0.33), (31200, 0.312), (31500, 0.299), (26100, 0.302), (39900, 0.366),
    (39100, 0.333), (43300, 0.356), (44600, 0.366), (43300, 0.345), (44100, 0.317), (40600, 0.3),
    (40100, 0.282), (36300, 0.289), (45800, 0.294), (46400, 0.283), (46900, 0.283), (55900, 0.375),
    (57900, 0.317), (57200, 0.293), (62000, 0.33), (63600, 0.283), (64900, 0.265), (65100, 0.247),
    (68500, 0.251), (59800, 0.255), (55700, 0.245), (51500, 0.264), (52100, 0.239), (44900, 0.26),
    (70400, 0.338), (73600, 0.338), (78000, 0.334), (75700, 0.32), (76100, 0.308), (76800, 0.29),
    (78500, 0.27), (75700, 0.259), (82500, 0.253), (81900, 0.224), (79600, 0.204), (81600, 0.369),
    (91400, 0.275), (91000, 0.23), (95700, 0.243), (95000, 0.204), (87100, 0.177), (76500, 0.185),
    (72200, 0.187), (61500, 0.202), (29100, 0.265), (27500, 0.235), (30700, 0.235), (36300, 0.244),
    (37300, 0.251), (40300, 0.247), (36300, 0.195), (103200, 0.293), (104300, 0.272), (105100, 0.388),
    (109500, 0.377), (113000, 0.385), (110800, 0.338),
]

top_series = [sutlej_winter, sutlej_premonsoon, sutlej_monsoon, sutlej_postmonsoon]
bottom_series = [beas_winter, beas_premonsoon, beas_monsoon, beas_postmonsoon]

FONT = "Liberation Sans"
INK = "#262626"
DOT = "#4c72b0"
FIT = "#c44e52"
GRID = "#cccccc"
S = 0.68  # the browser only captures ~4096 px across, so shrink the 6000 px design to fit


def px(v):
    return int(round(v * S))


def make_panel(title, pts, k, col, bottom_row):
    """One scatter panel with its fitted line"""
    xs = [pt[0] for pt in pts]
    ys = [pt[1] for pt in pts]
    p = figure(frame_width=px(1221), frame_height=px(1198),
               x_range=(0, 200000), y_range=(-0.2, 1.0),
               output_backend="svg", toolbar_location=None, tools="")
    p.min_border_left = px(312) if col == 0 else px(100)
    p.min_border_right = px(150) if col == 3 else px(104)
    p.min_border_top = px(145)
    p.min_border_bottom = px(240) if bottom_row else px(48)
    p.background_fill_color = "white"
    p.border_fill_color = "white"
    p.outline_line_color = INK
    p.outline_line_width = 4 * S

    p.title.text = title
    p.title.align = "center"
    p.title.text_font = FONT
    p.title.text_font_size = f"{px(68)}px"
    p.title.text_font_style = "normal"
    p.title.text_color = INK
    p.title.standoff = px(16)

    p.xaxis.ticker = FixedTicker(ticks=x_ticks)
    p.yaxis.ticker = FixedTicker(ticks=y_ticks)
    p.xgrid.ticker = FixedTicker(ticks=x_ticks)
    p.ygrid.ticker = FixedTicker(ticks=y_ticks)
    p.xaxis.major_label_overrides = dict(zip(x_ticks, x_tick_labels))
    p.yaxis.major_label_overrides = dict(zip(y_ticks, y_tick_labels))
    p.grid.grid_line_color = GRID
    p.grid.grid_line_width = 3 * S

    for ax in (p.xaxis, p.yaxis):
        ax.axis_line_color = None
        ax.major_tick_line_color = None
        ax.minor_tick_line_color = None
        ax.major_tick_out = 0
        ax.major_label_text_font = FONT
        ax.major_label_text_font_size = f"{px(62)}px"
        ax.major_label_text_color = INK
        ax.axis_label_text_font = FONT
        ax.axis_label_text_font_size = f"{px(70)}px"
        ax.axis_label_text_font_style = "normal"
        ax.axis_label_text_color = INK
    p.xaxis.major_label_standoff = px(24)
    p.yaxis.major_label_standoff = px(34)
    p.xaxis.axis_label_standoff = px(8)
    p.yaxis.axis_label_standoff = px(46)

    if bottom_row:
        p.xaxis.axis_label = "X,Y distance (m)"
    else:
        p.xaxis.visible = False
    if col == 0:
        p.yaxis.axis_label = "Correlation factor"
    else:
        p.yaxis.visible = False

    p.scatter(xs, ys, size=17 * S, color=DOT, line_color=None)
    lx = [min(xs), max(xs)]
    ly = [fit_intercept[k] + fit_slope[k] * v for v in lx]
    p.line(lx, ly, color=FIT, line_width=4 * S)
    return p


top = [make_panel(titles_top[i], top_series[i], i, i, False) for i in range(4)]
bottom = [make_panel(titles_bottom[i], bottom_series[i], 4 + i, i, True) for i in range(4)]
layout = column(row(*top), row(*bottom))

open("out.html", "w").write(file_html(layout, INLINE))
